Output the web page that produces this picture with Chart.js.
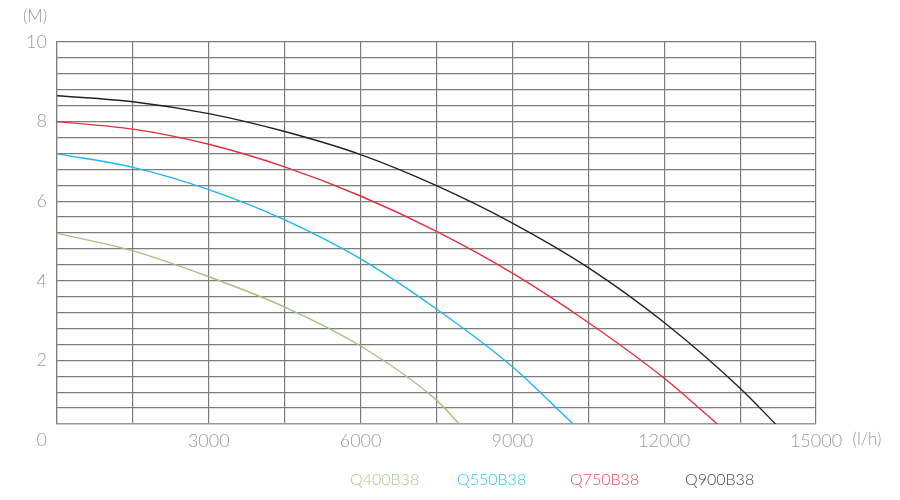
<!DOCTYPE html>
<html>
<head>
<meta charset="utf-8">
<script src="https://cdn.jsdelivr.net/npm/chart.js@4/dist/chart.umd.min.js"></script>
<style>
  html, body { margin: 0; padding: 0; background: #fff; }
  #wrap { position: relative; width: 900px; height: 500px; }
  #legend { position: absolute; left: 0; top: 469px; width: 900px; font-family: Lato, 'Open Sans', sans-serif; font-weight: 300; font-size: 16px; }
  #legend span { position: absolute; white-space: nowrap; }
</style>
</head>
<body>
<div id="wrap">
  <canvas id="myChart" width="900" height="500"></canvas>
  <div id="legend"></div>
</div>
<script>
// flow (l/h) and head (M)
let seriesNames = ['Q400B38', 'Q550B38', 'Q750B38', 'Q900B38']
let q400Flow = [0, 1500, 3000, 4500, 6000, 7500, 7950]
let q400Head = [5.19, 4.75, 4.10, 3.34, 2.36, 1.00, 0.4]
let q550Flow = [0, 1500, 3000, 4500, 6000, 7500, 9000, 10200]
let q550Head = [7.19, 6.85, 6.29, 5.53, 4.55, 3.29, 1.84, 0.4]
let q750Flow = [0, 1500, 3000, 4500, 6000, 7500, 9000, 10500, 12000, 13050]
let q750Head = [8.00, 7.81, 7.43, 6.86, 6.13, 5.24, 4.19, 2.95, 1.55, 0.4]
let q900Flow = [0, 1500, 3000, 4500, 6000, 7500, 9000, 10500, 12000, 13500, 14200]
let q900Head = [8.65, 8.50, 8.20, 7.75, 7.17, 6.39, 5.45, 4.33, 2.95, 1.30, 0.4]
let xLabels = [3000, 6000, 9000, 12000, 15000]
let yLabels = [2, 4, 6, 8, 10]

let lineColors = ['#a3c27e', '#1cb6f2', '#e2303c', '#222222']
let textColors = ['#a9c98c', '#38c2f6', '#e8505c', '#4a4a4a']
let legendX = [350, 457, 570, 685]

function toPoints(xs, ys) {
  let pts = []
  for (let i = 0; i < xs.length; i++) {
    pts.push({ x: xs[i], y: ys[i] })
  }
  return pts
}

let flows = [q400Flow, q550Flow, q750Flow, q900Flow]
let heads = [q400Head, q550Head, q750Head, q900Head]
let datasets = []
for (let i = 0; i < seriesNames.length; i++) {
  datasets.push({
    label: seriesNames[i],
    data: toPoints(flows[i], heads[i]),
    borderColor: lineColors[i],
    borderWidth: 1.4,
    pointRadius: 0,
    fill: false,
    cubicInterpolationMode: 'monotone'
  })
}

// html legend
let legend = document.getElementById('legend')
for (let i = 0; i < seriesNames.length; i++) {
  let s = document.createElement('span')
  s.textContent = seriesNames[i]
  s.style.color = textColors[i]
  s.style.left = legendX[i] + 'px'
  legend.appendChild(s)
}

const tickFont = { family: "Lato, 'Open Sans', sans-serif", size: 18, weight: '300' }
const tickColor = '#9a9a9a'

const extraText = {
  id: 'extraText',
  afterDraw(chart) {
    let ctx = chart.ctx
    let area = chart.chartArea
    ctx.save()
    ctx.fillStyle = tickColor
    ctx.font = "300 18px Lato, 'Open Sans', sans-serif"
    ctx.textBaseline = 'middle'
    ctx.textAlign = 'right'
    ctx.fillText('0', area.left - 10, 440)
    ctx.font = "300 17px Lato, 'Open Sans', sans-serif"
    ctx.textAlign = 'center'
    ctx.fillText('(M)', 35, 17)
    ctx.fillText('(l/h)', 867, 440)
    ctx.restore()
  }
}

let ctx = document.getElementById('myChart')
let myLineChart = new Chart(ctx, {
  type: 'line',
  data: { datasets: datasets },
  plugins: [extraText],
  options: {
    responsive: false,
    animation: false,
    layout: { padding: { left: 0, right: 84, top: 42, bottom: 46 } },
    plugins: { legend: { display: false }, tooltip: { enabled: false } },
    scales: {
      x: {
        type: 'linear',
        min: 0,
        max: 15000,
        afterBuildTicks: function(scale) {
          let t = []
          for (let v = 0; v <= 15000; v += 1500) t.push({ value: v })
          scale.ticks = t
        },
        afterFit: function(scale) { scale.height = 30 },
        grid: { color: '#7d7d7d', lineWidth: 1.2, drawTicks: false },
        border: { color: '#9a9a9a', width: 1.2 },
        ticks: {
          autoSkip: false,
          maxRotation: 0,
          padding: 6,
          color: tickColor,
          font: tickFont,
          callback: function(v) { return xLabels.indexOf(v) >= 0 ? String(v) : '' }
        }
      },
      y: {
        min: 0.4,
        max: 10,
        afterBuildTicks: function(scale) {
          let t = []
          for (let k = 1; k <= 25; k++) t.push({ value: Math.round(k * 4) / 10 })
          scale.ticks = t
        },
        afterFit: function(scale) { scale.width = 57 },
        grid: { color: '#7d7d7d', lineWidth: 1.2, drawTicks: false },
        border: { color: '#7d7d7d', width: 1.2 },
        ticks: {
          autoSkip: false,
          padding: 10,
          color: tickColor,
          font: tickFont,
          callback: function(v) { return yLabels.indexOf(v) >= 0 ? String(v) : '' }
        }
      }
    }
  }
})
</script>
</body>
</html>
